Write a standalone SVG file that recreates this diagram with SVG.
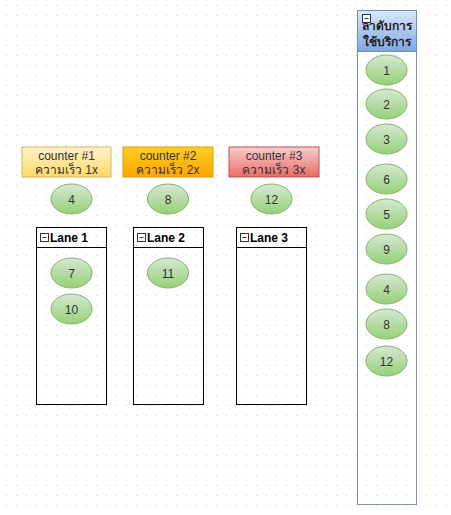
<svg xmlns="http://www.w3.org/2000/svg" width="451" height="515" viewBox="0 0 451 515">
<defs>
<pattern id="grid" x="0" y="0" width="10" height="10" patternUnits="userSpaceOnUse">
<rect x="6" y="5" width="1" height="1" fill="#cfcfcf"/>
</pattern>
<linearGradient id="gGreen" x1="0" y1="0" x2="0" y2="1"><stop offset="0" stop-color="#d5e8d4"/><stop offset="1" stop-color="#97d077"/></linearGradient>
<linearGradient id="gYellow" x1="0" y1="0" x2="0" y2="1"><stop offset="0" stop-color="#fff2cc"/><stop offset="1" stop-color="#ffd966"/></linearGradient>
<linearGradient id="gOrange" x1="0" y1="0" x2="0" y2="1"><stop offset="0" stop-color="#ffcd28"/><stop offset="1" stop-color="#ffa500"/></linearGradient>
<linearGradient id="gRed" x1="0" y1="0" x2="0" y2="1"><stop offset="0" stop-color="#f8cecc"/><stop offset="1" stop-color="#ea6b66"/></linearGradient>
<linearGradient id="gBlue" x1="0" y1="0" x2="0" y2="1"><stop offset="0" stop-color="#dae8fc"/><stop offset="1" stop-color="#7ea6e0"/></linearGradient>
</defs>
<style>
text{font-family:"Liberation Sans","Noto Sans",Arial,sans-serif;font-size:12px;fill:#333;text-anchor:middle}
.ell{fill:url(#gGreen);stroke:#82b366;stroke-width:1}
.lane{fill:none;stroke:#000;stroke-width:1}
.lt{font-weight:bold;fill:#000;text-anchor:start}
.icon{fill:#fff;stroke:#333;stroke-width:1}
</style>
<rect width="451" height="515" fill="#fff"/>
<rect width="451" height="515" fill="url(#grid)"/>

<g id="counter1"><rect x="22" y="147" width="89" height="30" fill="url(#gYellow)" stroke="#d6b656"/><text x="66.5" y="160">counter #1</text><text x="66.5" y="174">ความเร็ว 1x</text></g>
<g id="counter2"><rect x="123" y="147" width="90" height="30" fill="url(#gOrange)" stroke="#d79b00"/><text x="168" y="160">counter #2</text><text x="168" y="174">ความเร็ว 2x</text></g>
<g id="counter3"><rect x="229" y="147" width="90" height="30" fill="url(#gRed)" stroke="#b85450"/><text x="274" y="160">counter #3</text><text x="274" y="174">ความเร็ว 3x</text></g>

<g id="c4"><ellipse class="ell" cx="71.5" cy="199" rx="20.5" ry="15"/><text x="71.5" y="203.5">4</text></g>
<g id="c8"><ellipse class="ell" cx="168" cy="199" rx="20.5" ry="15"/><text x="168" y="203.5">8</text></g>
<g id="c12"><ellipse class="ell" cx="271.5" cy="199" rx="20.5" ry="15"/><text x="271.5" y="203.5">12</text></g>

<g id="lane1"><rect class="lane" x="36.5" y="227.5" width="70" height="177"/><line class="lane" x1="36.5" y1="247.5" x2="106.5" y2="247.5"/><rect class="icon" x="40.5" y="233.5" width="8" height="8"/><line x1="42.5" y1="237.5" x2="46.5" y2="237.5" stroke="#333"/><text class="lt" x="50" y="242">Lane 1</text></g>
<g id="lane2"><rect class="lane" x="133.5" y="227.5" width="70" height="177"/><line class="lane" x1="133.5" y1="247.5" x2="203.5" y2="247.5"/><rect class="icon" x="137.5" y="233.5" width="8" height="8"/><line x1="139.5" y1="237.5" x2="143.5" y2="237.5" stroke="#333"/><text class="lt" x="147" y="242">Lane 2</text></g>
<g id="lane3"><rect class="lane" x="236.5" y="227.5" width="70" height="177"/><line class="lane" x1="236.5" y1="247.5" x2="306.5" y2="247.5"/><rect class="icon" x="240.5" y="233.5" width="8" height="8"/><line x1="242.5" y1="237.5" x2="246.5" y2="237.5" stroke="#333"/><text class="lt" x="250" y="242">Lane 3</text></g>

<g id="c7"><ellipse class="ell" cx="71.5" cy="273" rx="20.5" ry="15"/><text x="71.5" y="277.5">7</text></g>
<g id="c10"><ellipse class="ell" cx="71.5" cy="309" rx="20.5" ry="15"/><text x="71.5" y="313.5">10</text></g>
<g id="c11"><ellipse class="ell" cx="168" cy="273" rx="20.5" ry="15"/><text x="168" y="277.5">11</text></g>

<g id="queue"><rect x="357.5" y="10.5" width="59" height="494" fill="none" stroke="#7d92ab"/><rect x="357.5" y="10.5" width="59" height="41" fill="url(#gBlue)" stroke="#6c8ebf"/><text x="387" y="30" style="font-weight:bold;fill:#222">ลำดับการ</text><text x="387" y="46" style="font-weight:bold;fill:#222">ใช้บริการ</text><rect class="icon" x="362.5" y="14.5" width="8" height="8"/><line x1="364.5" y1="18.5" x2="368.5" y2="18.5" stroke="#333"/></g>

<g id="q1"><ellipse class="ell" cx="386.5" cy="70" rx="20.5" ry="15"/><text x="386.5" y="74.5">1</text></g>
<g id="q2"><ellipse class="ell" cx="386.5" cy="104" rx="20.5" ry="15"/><text x="386.5" y="108.5">2</text></g>
<g id="q3"><ellipse class="ell" cx="386.5" cy="139" rx="20.5" ry="15"/><text x="386.5" y="143.5">3</text></g>
<g id="q6"><ellipse class="ell" cx="386.5" cy="179" rx="20.5" ry="15"/><text x="386.5" y="183.5">6</text></g>
<g id="q5"><ellipse class="ell" cx="386.5" cy="214" rx="20.5" ry="15"/><text x="386.5" y="218.5">5</text></g>
<g id="q9"><ellipse class="ell" cx="386.5" cy="249" rx="20.5" ry="15"/><text x="386.5" y="253.5">9</text></g>
<g id="q4"><ellipse class="ell" cx="386.5" cy="289" rx="20.5" ry="15"/><text x="386.5" y="293.5">4</text></g>
<g id="q8"><ellipse class="ell" cx="386.5" cy="324" rx="20.5" ry="15"/><text x="386.5" y="328.5">8</text></g>
<g id="q12"><ellipse class="ell" cx="386.5" cy="361" rx="20.5" ry="15"/><text x="386.5" y="365.5">12</text></g>

<g id="connectors"></g>
</svg>
